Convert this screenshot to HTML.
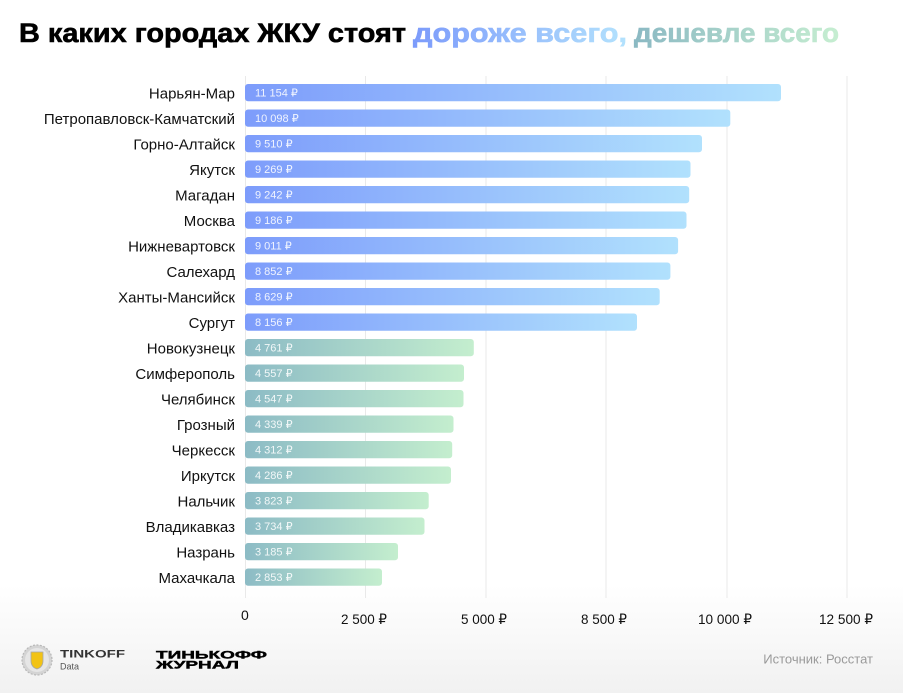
<!DOCTYPE html>
<html><head><meta charset="utf-8"><style>
html,body{margin:0;padding:0;}
body{width:903px;height:693px;overflow:hidden;background:linear-gradient(to bottom,#ffffff 0px,#ffffff 585px,#f1f1f1 693px);}
svg{display:block;}
text{font-family:"Liberation Sans","DejaVu Sans",sans-serif;}
</style></head><body>
<svg width="903" height="693" viewBox="0 0 903 693" xmlns="http://www.w3.org/2000/svg">
<defs>
<linearGradient id="gb" x1="0" y1="0" x2="1" y2="0"><stop offset="0" stop-color="#7d9cfb"/><stop offset="1" stop-color="#b1e1fd"/></linearGradient>
<linearGradient id="gg" x1="0" y1="0" x2="1" y2="0"><stop offset="0" stop-color="#8cbbc5"/><stop offset="1" stop-color="#c4eece"/></linearGradient>
<linearGradient id="tb" x1="0" y1="0" x2="1" y2="0"><stop offset="0" stop-color="#7c9bfb"/><stop offset="1" stop-color="#b3e2fd"/></linearGradient>
<linearGradient id="tg" x1="0" y1="0" x2="1" y2="0"><stop offset="0" stop-color="#8bb9c3"/><stop offset="1" stop-color="#c6eed1"/></linearGradient>
</defs>

<!-- title -->
<text x="19" y="42" font-size="27" font-weight="bold" fill="#000" stroke="#000" stroke-width="0.6" textLength="387" lengthAdjust="spacingAndGlyphs">В каких городах ЖКУ стоят</text>
<text x="413" y="42" font-size="27" font-weight="bold" fill="url(#tb)" stroke="url(#tb)" stroke-width="0.6" textLength="214" lengthAdjust="spacingAndGlyphs">дороже всего,</text>
<text x="634" y="42" font-size="27" font-weight="bold" fill="url(#tg)" stroke="url(#tg)" stroke-width="0.6" textLength="205" lengthAdjust="spacingAndGlyphs">дешевле всего</text>

<!-- grid -->
<g stroke="#e9e9e9" stroke-width="1">
<line x1="245.5" y1="76" x2="245.5" y2="598"/>
<line x1="365.5" y1="76" x2="365.5" y2="598"/>
<line x1="486" y1="76" x2="486" y2="598"/>
<line x1="606" y1="76" x2="606" y2="598"/>
<line x1="727" y1="76" x2="727" y2="598"/>
<line x1="847" y1="76" x2="847" y2="598"/>
</g>

<!-- bars -->
<g>
<rect x="245" y="84" width="536" height="17.3" rx="3" fill="url(#gb)"/>
<rect x="245" y="109.5" width="485.3" height="17.3" rx="3" fill="url(#gb)"/>
<rect x="245" y="135" width="457" height="17.3" rx="3" fill="url(#gb)"/>
<rect x="245" y="160.5" width="445.5" height="17.3" rx="3" fill="url(#gb)"/>
<rect x="245" y="186" width="444.2" height="17.3" rx="3" fill="url(#gb)"/>
<rect x="245" y="211.5" width="441.5" height="17.3" rx="3" fill="url(#gb)"/>
<rect x="245" y="237" width="433.1" height="17.3" rx="3" fill="url(#gb)"/>
<rect x="245" y="262.5" width="425.4" height="17.3" rx="3" fill="url(#gb)"/>
<rect x="245" y="288" width="414.7" height="17.3" rx="3" fill="url(#gb)"/>
<rect x="245" y="313.5" width="392" height="17.3" rx="3" fill="url(#gb)"/>
<rect x="245" y="339" width="228.8" height="17.3" rx="3" fill="url(#gg)"/>
<rect x="245" y="364.5" width="219" height="17.3" rx="3" fill="url(#gg)"/>
<rect x="245" y="390" width="218.5" height="17.3" rx="3" fill="url(#gg)"/>
<rect x="245" y="415.5" width="208.5" height="17.3" rx="3" fill="url(#gg)"/>
<rect x="245" y="441" width="207.2" height="17.3" rx="3" fill="url(#gg)"/>
<rect x="245" y="466.5" width="206" height="17.3" rx="3" fill="url(#gg)"/>
<rect x="245" y="492" width="183.7" height="17.3" rx="3" fill="url(#gg)"/>
<rect x="245" y="517.5" width="179.5" height="17.3" rx="3" fill="url(#gg)"/>
<rect x="245" y="543" width="153" height="17.3" rx="3" fill="url(#gg)"/>
<rect x="245" y="568.5" width="137" height="17.3" rx="3" fill="url(#gg)"/>
</g>

<!-- value labels -->
<g font-size="11" fill="#ffffff" fill-opacity="0.88">
<text x="255" y="96.6">11 154 ₽</text>
<text x="255" y="122.1">10 098 ₽</text>
<text x="255" y="147.6">9 510 ₽</text>
<text x="255" y="173.1">9 269 ₽</text>
<text x="255" y="198.6">9 242 ₽</text>
<text x="255" y="224.1">9 186 ₽</text>
<text x="255" y="249.6">9 011 ₽</text>
<text x="255" y="275.1">8 852 ₽</text>
<text x="255" y="300.6">8 629 ₽</text>
<text x="255" y="326.1">8 156 ₽</text>
<text x="255" y="351.6">4 761 ₽</text>
<text x="255" y="377.1">4 557 ₽</text>
<text x="255" y="402.6">4 547 ₽</text>
<text x="255" y="428.1">4 339 ₽</text>
<text x="255" y="453.6">4 312 ₽</text>
<text x="255" y="479.1">4 286 ₽</text>
<text x="255" y="504.6">3 823 ₽</text>
<text x="255" y="530.1">3 734 ₽</text>
<text x="255" y="555.6">3 185 ₽</text>
<text x="255" y="581.1">2 853 ₽</text>
</g>

<!-- category labels -->
<g font-size="15" fill="#111" text-anchor="end">
<text x="235" y="98.3">Нарьян-Мар</text>
<text x="235" y="123.8">Петропавловск-Камчатский</text>
<text x="235" y="149.3">Горно-Алтайск</text>
<text x="235" y="174.8">Якутск</text>
<text x="235" y="200.3">Магадан</text>
<text x="235" y="225.8">Москва</text>
<text x="235" y="251.3">Нижневартовск</text>
<text x="235" y="276.8">Салехард</text>
<text x="235" y="302.3">Ханты-Мансийск</text>
<text x="235" y="327.8">Сургут</text>
<text x="235" y="353.3">Новокузнецк</text>
<text x="235" y="378.8">Симферополь</text>
<text x="235" y="404.3">Челябинск</text>
<text x="235" y="429.8">Грозный</text>
<text x="235" y="455.3">Черкесск</text>
<text x="235" y="480.8">Иркутск</text>
<text x="235" y="506.3">Нальчик</text>
<text x="235" y="531.8">Владикавказ</text>
<text x="235" y="557.3">Назрань</text>
<text x="235" y="582.8">Махачкала</text>
</g>

<!-- axis labels -->
<g font-size="14" fill="#111">
<text x="241" y="620">0</text>
<text x="341" y="624" textLength="46" lengthAdjust="spacingAndGlyphs">2 500 ₽</text>
<text x="461" y="624" textLength="46" lengthAdjust="spacingAndGlyphs">5 000 ₽</text>
<text x="581" y="624" textLength="46" lengthAdjust="spacingAndGlyphs">8 500 ₽</text>
<text x="698" y="624" textLength="54" lengthAdjust="spacingAndGlyphs">10 000 ₽</text>
<text x="819" y="624" textLength="54" lengthAdjust="spacingAndGlyphs">12 500 ₽</text>
</g>

<!-- footer -->
<g>
<circle cx="37" cy="660" r="15" fill="#d4d4d4"/>
<circle cx="37" cy="660" r="12" fill="#e6e6e6"/>
<circle cx="37" cy="660" r="15" fill="none" stroke="#b8b8b8" stroke-width="1.2" stroke-dasharray="2 1.5"/>
<path d="M31 652 h12 v9 q0 6 -6 8 q-6 -2 -6 -8 z" fill="#f2c315" stroke="#a8a8a8" stroke-width="0.8"/>
<text x="60" y="657.5" font-size="11" font-weight="bold" fill="#333" textLength="65" lengthAdjust="spacingAndGlyphs">TINKOFF</text>
<text x="60" y="669.5" font-size="9" fill="#555">Data</text>
<text x="156" y="658.5" font-size="11" font-weight="900" fill="#000" stroke="#000" stroke-width="0.4" textLength="111" lengthAdjust="spacingAndGlyphs">ТИНЬКОФФ</text>
<text x="156" y="668.5" font-size="11" font-weight="900" fill="#000" stroke="#000" stroke-width="0.4" textLength="83" lengthAdjust="spacingAndGlyphs">ЖУРНАЛ</text>
<text x="873" y="663.5" font-size="13" fill="#9a9a9a" text-anchor="end">Источник: Росстат</text>
</g>
</svg>
</body></html>
